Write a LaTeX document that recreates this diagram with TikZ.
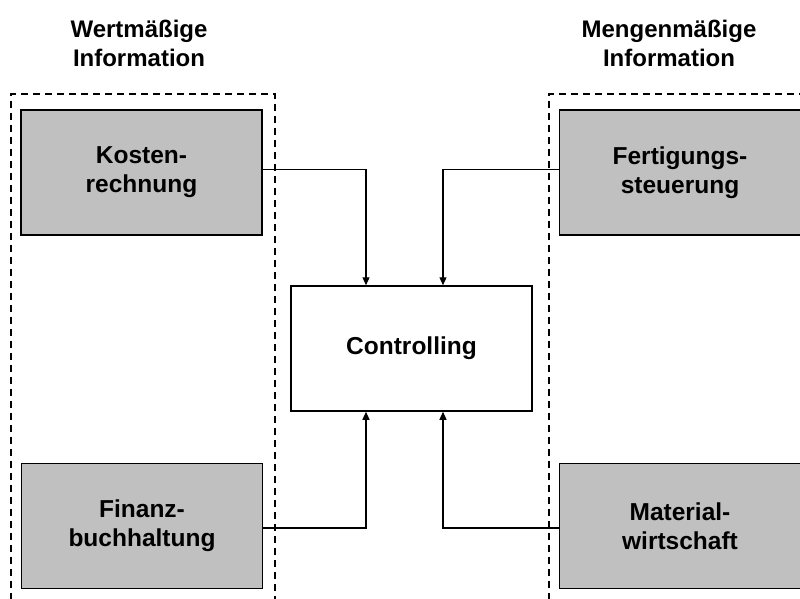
\documentclass[tikz,border=0pt]{standalone}
\usepackage{fontspec}
\setmainfont{Liberation Sans}
\usetikzlibrary{arrows.meta}
\definecolor{boxgray}{HTML}{C0C0C0}
\begin{document}
\begin{tikzpicture}[x=1pt,y=-1pt,
  box/.style={draw=black,line width=1.5pt,minimum width=241pt,minimum height=125pt,inner sep=0pt,align=center,font=\bfseries\fontsize{24.5}{29}\selectfont},
  graybox/.style={box,fill=boxgray},
  header/.style={align=center,font=\bfseries\fontsize{24}{29}\selectfont,inner sep=0pt},
  group/.style={dash pattern=on 7pt off 5pt,line width=1.2pt},
  conn/.style={line width=1.2pt,-{Triangle[length=8pt,width=7pt]}}]
\useasboundingbox (0,0) rectangle (800,599);
% group frames
\coordinate (lbl) at (11,600);
\coordinate (lbr) at (275,600);
\coordinate (rbl) at (549,600);
\coordinate (rbr) at (805,94);
\draw[group] (lbl) -- (11,94) -- (275,94) -- (lbr);
\draw[group] (rbl) -- (549,94) -- (rbr);
% headers
\node[header] (hw) at (139,43) {Wertmäßige\\Information};
\node[header] (hm) at (669,43) {Mengenmäßige\\Information};
% boxes
\node[graybox] (kosten) at (141.5,172.5) {Kosten-\\rechnung};
\node[graybox] (fert) at (680,172.5) {Fertigungs-\\steuerung};
\node[box,fill=white] (ctrl) at (411.5,348.5) {Controlling};
\node[graybox] (finanz) at (142,526) {Finanz-\\buchhaltung};
\node[graybox] (mat) at (680,526) {Material-\\wirtschaft};
% connectors
\draw[conn] ([yshift=3pt]kosten.east) -| ([xshift=-45.5pt]ctrl.north);
\draw[conn] ([yshift=3pt]fert.west) -| ([xshift=31.5pt]ctrl.north);
\draw[conn] ([yshift=-2pt]finanz.east) -| ([xshift=-45.5pt]ctrl.south);
\draw[conn] ([yshift=-2pt]mat.west) -| ([xshift=31.5pt]ctrl.south);
\end{tikzpicture}
\end{document}
